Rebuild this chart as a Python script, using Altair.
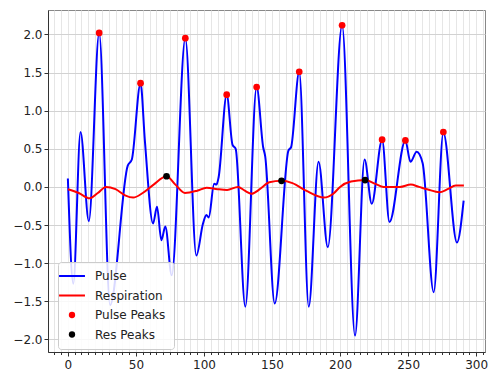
import altair as alt
import pandas as pd

# ---- data ----
pulse_x = [0, 4, 9.3, 15.4, 23, 31, 44, 47, 53.4, 56.6, 62.6, 65.5, 68.7, 71.6, 76.3,
           86.3, 94.4, 99.3, 101.8, 103.5, 107.5, 109.2, 110.8, 116.7, 121, 123.3,
           130.4, 138.7, 143.5, 145, 152, 162.1, 164, 170, 177, 184.2, 191, 201.5,
           211, 218, 223.3, 230.9, 236.3, 248, 251.7, 256.3, 260.7, 268.8, 275.9,
           285.9, 290.8]
pulse_y = [0.11, -1.27, 0.72, -0.45, 2.02, -1.55, 0.28, 0.36, 1.36, 0.6, -0.48, -0.26,
           -0.70, -0.52, -1.16, 1.95, -0.90, -0.48, -0.37, -0.40, 0.04, 0.03, 0.13,
           1.21, 0.55, 0.50, -1.57, 1.31, 0.52, 0.40, -1.53, 0.48, 0.52, 1.51, -1.57,
           0.33, -0.79, 2.12, -1.95, 0.36, -0.22, 0.62, -0.46, 0.61, 0.33, 0.46, 0.31,
           -1.38, 0.71, -0.73, -0.18]

resp_x = [0, 8, 16, 22, 28, 35, 42, 48, 55, 63, 72.5, 79, 86, 95, 102, 110, 117, 125,
          130, 135, 141, 148, 157, 165, 175, 188, 195, 200, 208, 218.4, 226, 232, 244,
          252, 258, 264, 273, 279, 285, 291]
resp_y = [-0.03, -0.08, -0.15, -0.08, 0.0, -0.03, -0.11, -0.14, -0.08, 0.03, 0.14, 0.03,
          -0.08, -0.05, -0.01, -0.03, -0.04, 0.0, -0.05, -0.09, -0.03, 0.06, 0.08, 0.05,
          -0.05, -0.14, -0.09, 0.0, 0.07, 0.09, 0.04, 0.0, 0.0, 0.03, 0.0, -0.03, -0.07,
          -0.03, 0.02, 0.02]

pulse_peak_x = [23, 53.4, 86.3, 116.7, 138.7, 170, 201.5, 230.9, 248, 275.9]
pulse_peak_y = [2.02, 1.36, 1.95, 1.21, 1.31, 1.51, 2.12, 0.62, 0.61, 0.72]

res_peak_x = [72.5, 157, 218.4]
res_peak_y = [0.14, 0.08, 0.09]

series_names = ["Pulse", "Respiration", "Pulse Peaks", "Res Peaks"]
series_colors = ["#0000ff", "#ff0000", "#ff0000", "#000000"]

x_major_ticks = [0, 50, 100, 150, 200, 250, 300]
x_minor_ticks = list(range(-10, 306, 5))
y_ticks = [-2.0, -1.5, -1.0, -0.5, 0.0, 0.5, 1.0, 1.5, 2.0]

# ---- tables ----
pulse_df = pd.DataFrame({"x": pulse_x, "y": pulse_y})
resp_df = pd.DataFrame({"x": resp_x, "y": resp_y})
peaks_df = pd.concat([
    pd.DataFrame({"x": pulse_peak_x, "y": pulse_peak_y, "series": "Pulse Peaks"}),
    pd.DataFrame({"x": res_peak_x, "y": res_peak_y, "series": "Res Peaks"}),
])

FONT = "DejaVu Sans"
LINE_SYMBOL = "M-4.1,-0.32H4.1V0.32H-4.1Z"

xs = alt.Scale(domain=[-14.6, 306.5], nice=False, zero=False)
ys = alt.Scale(domain=[-2.165, 2.32], nice=False, zero=False)
cs = alt.Scale(domain=series_names, range=series_colors)
ss = alt.Scale(domain=series_names, range=[LINE_SYMBOL, LINE_SYMBOL, "circle", "circle"])

y_axis = alt.Axis(values=y_ticks, format=".1f", grid=True, gridColor="#d2d2d2",
                  gridWidth=1, tickSize=4, labelPadding=2, title=None,
                  domainColor="#333333", tickColor="#333333")
minor_axis = alt.Axis(values=x_minor_ticks, labels=False, tickSize=2.5, grid=True,
                      gridColor="#e6e6e6", gridWidth=1, domain=False, orient="bottom",
                      title=None, tickColor="#333333")
major_axis = alt.Axis(values=x_major_ticks, format="d", tickSize=4, grid=False,
                      orient="bottom", title=None, labelPadding=3,
                      domainColor="#333333", tickColor="#333333")

pulse_line = alt.Chart(pulse_df).mark_line(
    strokeWidth=2, interpolate="monotone", color=series_colors[0]
).encode(
    x=alt.X("x:Q", scale=xs, axis=minor_axis),
    y=alt.Y("y:Q", scale=ys, axis=y_axis),
)

resp_line = alt.Chart(resp_df).mark_line(
    strokeWidth=2, interpolate="monotone", color=series_colors[1]
).encode(
    x=alt.X("x:Q", scale=xs, axis=major_axis),
    y=alt.Y("y:Q", scale=ys, axis=y_axis),
)

legend_def = alt.Legend(
    title=None, orient="none", legendX=10, legendY=252,
    fillColor="rgba(255,255,255,0.85)", strokeColor="#cccccc", cornerRadius=3,
    padding=8, labelOffset=17, rowPadding=7.5, labelFontSize=12, symbolSize=40,
    labelColor="#222222", labelFont=FONT)

peaks = alt.Chart(peaks_df).mark_point(filled=True, size=45, opacity=1).encode(
    x=alt.X("x:Q", scale=xs, axis=None),
    y=alt.Y("y:Q", scale=ys, axis=y_axis),
    color=alt.Color("series:N", scale=cs, legend=legend_def),
    shape=alt.Shape("series:N", scale=ss, legend=legend_def),
)

chart = alt.layer(pulse_line, resp_line, peaks).resolve_axis(x="independent").properties(
    width=437, height=342,
    autosize=alt.AutoSizeParams(type="none"),
    padding={"left": 48, "top": 10, "right": 4, "bottom": 21},
).configure_view(
    stroke="#888888", strokeWidth=1
).configure_axis(
    labelFont=FONT, labelFontSize=12, labelColor="#222222"
).configure_legend(
    labelFont=FONT
)

chart.save("out.html", embed_options={"renderer": "svg", "actions": False})
